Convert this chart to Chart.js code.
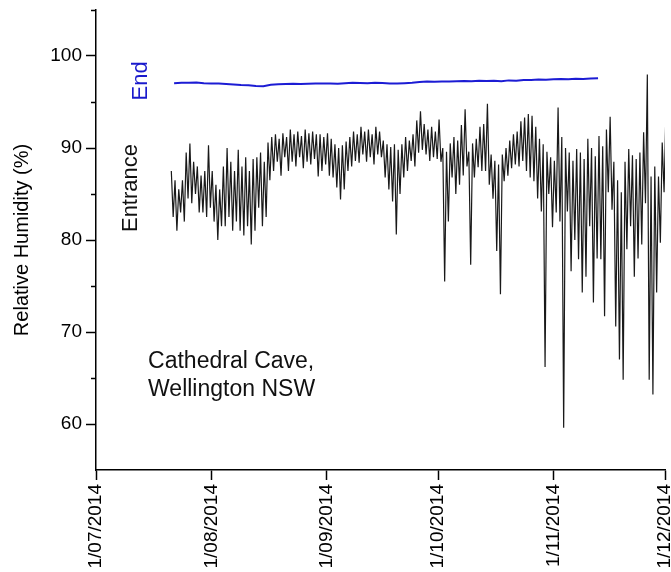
<!DOCTYPE html>
<html>
<head>
<meta charset="utf-8">
<title>Cathedral Cave relative humidity</title>
<script src="https://cdn.jsdelivr.net/npm/chart.js@4.4.1/dist/chart.umd.min.js"></script>
<style>
  html, body { margin: 0; padding: 0; background: #fff; }
  #chart { display: block; }
</style>
</head>
<body>
<canvas id="chart" width="671" height="572"></canvas>
<script>
// x values are days counted from 1 July 2014
const xTickDays = [0, 31, 62, 92, 123, 153];
const xTickLabels = ['1/07/2014', '1/08/2014', '1/09/2014', '1/10/2014', '1/11/2014', '1/12/2014'];
const yTicks = [60, 70, 80, 90, 100];
const yMinorTicks = [65, 75, 85, 95, 105];

// Entrance logger: daily high / low, one pair per day starting 21 July
const entranceStartDay = 20;
const entranceHigh = [
    87.5, 86.5, 85.5, 86.5, 89.5, 90.5, 88.5, 88.0, 87.0, 87.5,
    90.3, 87.5, 86.0, 85.5, 88.0, 90.0, 88.5, 87.5, 89.8, 88.0,
    89.0, 87.5, 88.8, 89.0, 89.5, 88.5, 90.6, 91.2, 91.5, 91.0,
    91.6, 91.2, 92.0, 91.5, 91.8, 91.3, 92.0, 91.6, 91.8, 91.5,
    91.5, 91.2, 91.6, 91.0, 90.4, 90.0, 90.3, 90.7, 91.2, 91.8,
    91.5, 92.3, 91.8, 92.0, 91.5, 92.3, 91.8, 90.8, 90.4, 90.1,
    90.4, 89.8, 90.4, 91.2, 90.8, 91.5, 93.0, 94.0, 92.6, 92.0,
    92.3, 91.8, 93.1, 90.0, 89.6, 90.5, 91.2, 90.8, 92.5, 94.2,
    89.6, 90.5, 91.0, 92.3, 92.6, 94.8, 89.3, 88.6, 88.2, 89.3,
    90.0, 90.8, 91.5, 91.8, 92.9, 93.3, 93.7, 93.5, 92.3, 91.0,
    90.4, 89.6, 89.0, 88.6, 94.4, 91.2, 90.0, 89.5, 88.6, 89.9,
    89.5, 88.8, 91.0, 90.0, 89.1, 91.3, 90.2, 92.0, 93.4, 88.5,
    86.5, 85.2, 88.5, 89.9, 89.2, 88.8, 89.5, 91.7, 98.0, 86.9,
    88.0, 86.9, 90.6, 94.0
];
const entranceLow = [
    82.5, 81.0, 83.0, 82.0, 84.5, 84.0, 85.0, 83.0, 83.0, 82.5,
    83.5, 82.0, 80.0, 81.5, 81.5, 82.5, 81.0, 82.0, 81.0, 80.5,
    81.5, 79.5, 81.0, 83.5, 81.5, 82.5, 86.5, 87.5, 88.5, 87.0,
    89.0, 87.5, 88.5, 88.0, 89.0, 87.8, 88.5, 88.2, 88.8, 86.9,
    87.5, 88.2, 87.0, 86.8, 85.7, 84.4, 85.5, 87.5, 88.0, 88.6,
    88.4, 89.3, 88.5, 89.0, 88.2, 89.3, 89.0, 86.8, 85.5, 84.2,
    80.6, 85.0, 86.8, 87.5, 88.6, 88.0, 89.5, 89.8, 89.3, 88.6,
    89.0, 88.8, 88.5, 75.5, 82.0, 86.8, 85.0, 86.0, 87.0, 88.0,
    77.3, 86.8, 87.9, 87.5, 87.5, 86.0, 84.5, 78.8, 74.1, 86.4,
    87.0, 87.8, 88.2, 88.0, 88.6, 87.5, 86.8, 86.4, 84.5, 83.1,
    66.2, 85.0, 81.4, 83.0, 82.0, 59.6, 83.1, 76.6, 80.0, 77.9,
    74.3, 76.0, 81.5, 73.2, 78.0, 77.9, 71.7, 85.2, 83.3, 70.6,
    67.0, 64.8, 79.0, 81.5, 76.0, 78.0, 79.5, 84.0, 64.8, 63.2,
    74.3, 79.7, 85.2, 80.0
];

// End logger: one reading every second day starting 22 July
const endStartDay = 21;
const endStep = 2;
const endValues = [
    97.05, 97.10, 97.08, 97.12, 97.05, 97.02, 97.00, 96.95, 96.90, 96.85,
    96.82, 96.75, 96.72, 96.88, 96.92, 96.95, 96.98, 96.96, 96.98, 97.00,
    97.02, 97.00, 96.98, 97.05, 97.08, 97.06, 97.05, 97.08, 97.06, 97.02,
    97.00, 97.05, 97.10, 97.18, 97.22, 97.20, 97.24, 97.22, 97.25, 97.28,
    97.26, 97.30, 97.28, 97.30, 97.25, 97.35, 97.30, 97.38, 97.40, 97.45,
    97.42, 97.48, 97.50, 97.48, 97.52, 97.50, 97.55, 97.58
];

const caveLabel = ['Cathedral Cave,', 'Wellington NSW'];

const fontFamily = '"Liberation Sans", Arial, Helvetica, sans-serif';
Chart.defaults.font.family = fontFamily;
Chart.defaults.color = '#000';

const entrancePoints = [];
entranceHigh.forEach((hi, i) => {
    const day = entranceStartDay + i;
    entrancePoints.push({ x: day + 0.25, y: hi });
    entrancePoints.push({ x: day + 0.75, y: entranceLow[i] });
});

const endPoints = endValues.map((v, i) => ({ x: endStartDay + i * endStep, y: v }));

const minorTicks = {
    id: 'minorTicks',
    afterDraw(chart) {
        const { ctx } = chart;
        const y = chart.scales.y;
        ctx.save();
        ctx.strokeStyle = '#000';
        ctx.lineWidth = 1.5;
        yMinorTicks.forEach(v => {
            const py = Math.round(y.getPixelForValue(v)) + 0.5;
            ctx.beginPath();
            ctx.moveTo(y.right - 5, py);
            ctx.lineTo(y.right, py);
            ctx.stroke();
        });
        ctx.restore();
    }
};

function drawUpText(ctx, text, px, py, color) {
    ctx.save();
    ctx.translate(px, py);
    ctx.rotate(-Math.PI / 2);
    ctx.fillStyle = color;
    ctx.textAlign = 'center';
    ctx.textBaseline = 'alphabetic';
    ctx.fillText(text, 0, 0);
    ctx.restore();
}

const notes = {
    id: 'notes',
    afterDraw(chart) {
        const { ctx } = chart;
        const x = chart.scales.x;
        const y = chart.scales.y;
        ctx.save();
        ctx.font = '23px ' + fontFamily;
        ctx.fillStyle = '#111';
        ctx.textAlign = 'left';
        ctx.textBaseline = 'alphabetic';
        caveLabel.forEach((line, i) => {
            ctx.fillText(line, x.getPixelForValue(14), y.getPixelForValue(66.1) + i * 28);
        });
        ctx.font = '22px ' + fontFamily;
        drawUpText(ctx, 'End', x.getPixelForValue(13.7), y.getPixelForValue(97.3), '#1a1acc');
        drawUpText(ctx, 'Entrance', x.getPixelForValue(11.0), y.getPixelForValue(85.65), '#111');
        ctx.restore();
    }
};

new Chart(document.getElementById('chart').getContext('2d'), {
    type: 'line',
    data: {
        datasets: [{
            label: 'Entrance',
            data: entrancePoints,
            borderColor: 'rgba(0, 0, 0, 0.9)',
            borderWidth: 1.2,
            pointRadius: 0,
            tension: 0
        }, {
            label: 'End',
            data: endPoints,
            borderColor: '#1c1cd4',
            borderWidth: 2,
            pointRadius: 0,
            tension: 0
        }]
    },
    options: {
        responsive: false,
        animation: false,
        layout: { padding: { top: 10, right: 6, left: 0, bottom: 0 } },
        plugins: {
            legend: { display: false },
            tooltip: { enabled: false }
        },
        scales: {
            x: {
                type: 'linear',
                min: 0,
                max: 153,
                afterBuildTicks: scale => {
                    scale.ticks = xTickDays.map(v => ({ value: v }));
                },
                afterFit: scale => {
                    scale.height = 102;
                    scale.paddingLeft = 0;
                    scale.paddingRight = 0;
                },
                ticks: {
                    autoSkip: false,
                    minRotation: 90,
                    maxRotation: 90,
                    padding: 4,
                    color: '#000',
                    font: { size: 19 },
                    callback: (value, index) => xTickLabels[index]
                },
                grid: {
                    drawOnChartArea: false,
                    drawTicks: true,
                    tickLength: 10,
                    tickColor: '#000',
                    tickWidth: 1.5
                },
                border: { color: '#000', width: 1.5 }
            },
            y: {
                min: 55,
                max: 105,
                afterBuildTicks: scale => {
                    scale.ticks = yTicks.map(v => ({ value: v }));
                },
                afterFit: scale => {
                    scale.width = 96;
                    scale.paddingTop = 0;
                    scale.paddingBottom = 0;
                },
                ticks: {
                    padding: 4,
                    color: '#000',
                    font: { size: 19 }
                },
                grid: {
                    drawOnChartArea: false,
                    drawTicks: true,
                    tickLength: 10,
                    tickColor: '#000',
                    tickWidth: 1.5
                },
                border: { color: '#000', width: 1.5 },
                title: {
                    display: true,
                    text: 'Relative Humidity (%)',
                    color: '#000',
                    font: { size: 20 },
                    padding: { top: 10, bottom: 0 }
                }
            }
        }
    },
    plugins: [minorTicks, notes]
});
</script>
</body>
</html>
